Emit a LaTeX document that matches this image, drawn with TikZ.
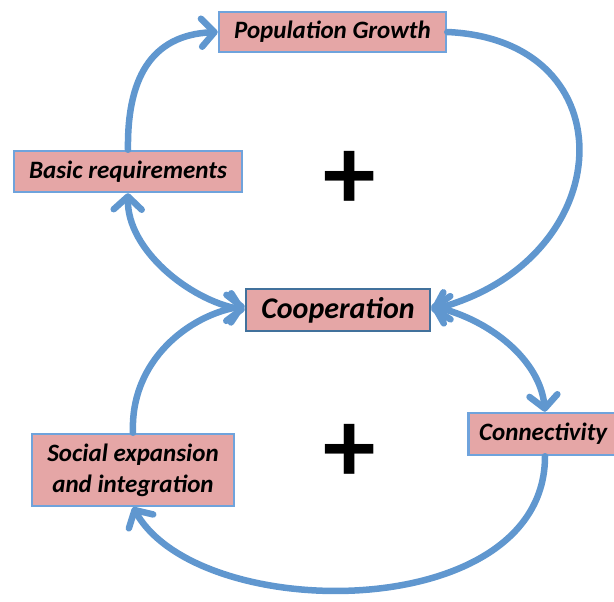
\documentclass[tikz,border=0pt]{standalone}
\usepackage{fontspec}
\setmainfont{Carlito}
\usetikzlibrary{arrows.meta}
\definecolor{boxfill}{HTML}{E5A6A6}
\definecolor{boxline}{HTML}{6FA3DC}
\definecolor{coopline}{HTML}{41719C}
\definecolor{arrowc}{HTML}{6097CF}
\tikzset{
  box/.style={draw=boxline, fill=boxfill, line width=2.5pt, inner sep=0pt, align=center,
    font=\fontsize{25}{31}\selectfont\bfseries\itshape},
  coopbox/.style={box, draw=coopline, font=\fontsize{30}{34}\selectfont\bfseries\itshape},
  link/.style={draw=arrowc, line width=6.5pt, line cap=round,
    -{Straight Barb[round,length=13pt,width=28pt]}},
  dlink/.style={link, {Straight Barb[round,length=13pt,width=28pt]}-{Straight Barb[round,length=13pt,width=28pt]}},
  plus/.style={font=\fontsize{105}{105}\selectfont\bfseries, inner sep=0pt}
}
\begin{document}
\begin{tikzpicture}[x=1pt,y=-1pt]
\useasboundingbox (0,0) rectangle (614,602);
\node[box, minimum width=227pt, minimum height=40pt] (pg) at (332.5,32) {Population Growth};
\node[box, minimum width=228pt, minimum height=41pt] (br) at (128,171.5) {Basic requirements};
\node[coopbox, minimum width=184pt, minimum height=42pt] (coop) at (338,310) {Cooperation};
\node[box, minimum width=150pt, minimum height=42pt, anchor=west] (conn) at (467,434) {Connectivity};
\node[box, minimum width=202pt, minimum height=72pt] (se) at (133,470) {Social expansion\\and integration};
\node[plus] (p1) at (350,180) {+};
\node[plus] (p2) at (350,453) {+};
\draw[link] (br.north) .. controls (127,80) and (150,35) .. (pg.west);
\draw[link] (pg.east) .. controls (630,40) and (620,260) .. (coop.east);
\draw[dlink] (br.south) .. controls (127,250) and (190,300) .. (coop.west);
\draw[dlink] ([yshift=4pt]coop.east) .. controls (490,320) and (540,360) .. (conn.north -| 545,0);
\draw[link] (conn.south -| 545,0) .. controls (545,625) and (200,625) .. (se.south);
\draw[link] (se.north) .. controls (130,360) and (190,315) .. ([yshift=4pt]coop.west);
\end{tikzpicture}
\end{document}
